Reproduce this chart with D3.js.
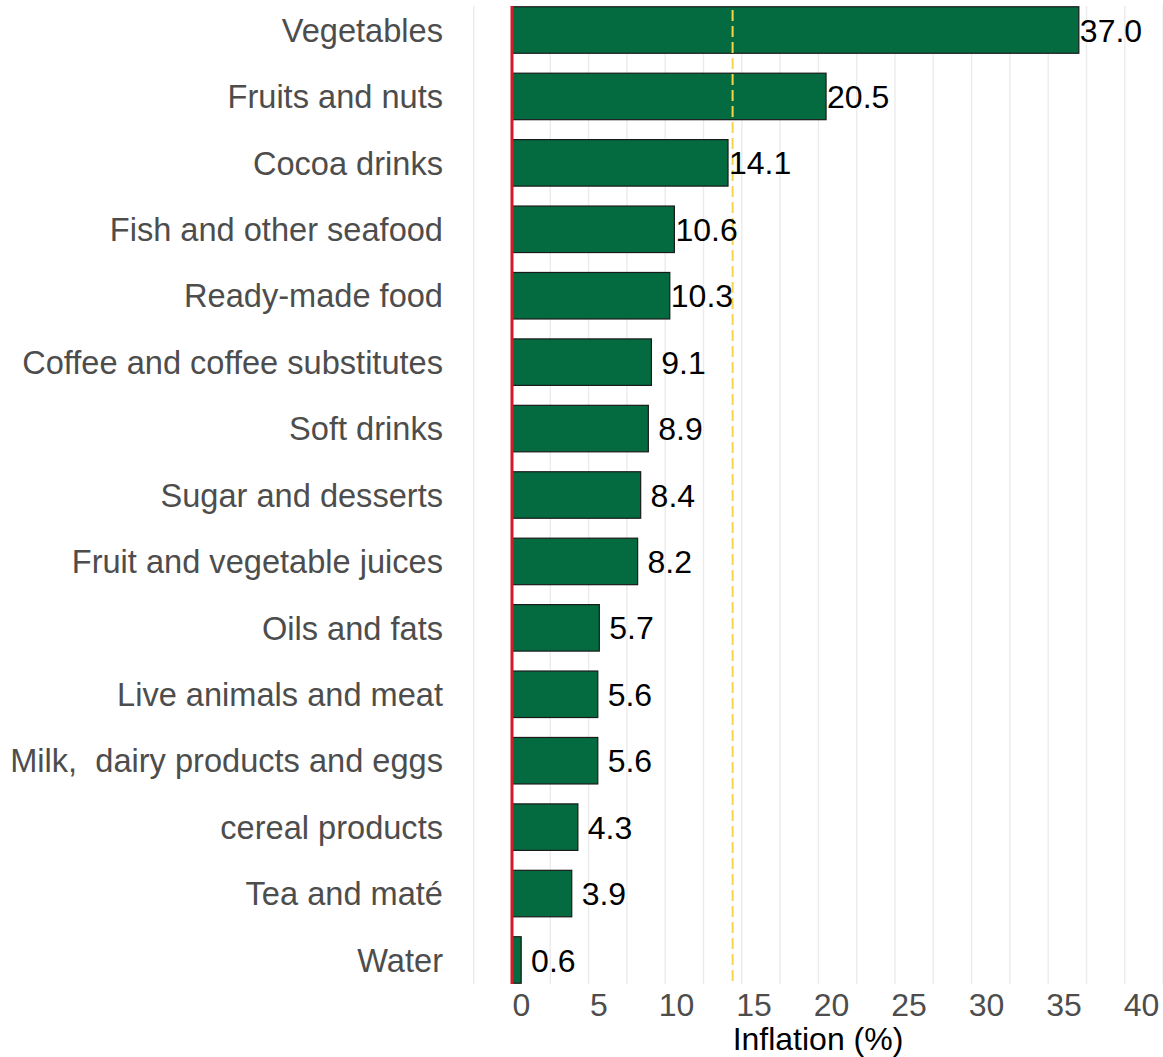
<!DOCTYPE html>
<html>
<head>
<meta charset="utf-8">
<script src="https://cdn.jsdelivr.net/npm/d3@7"></script>
<style>
html, body { margin: 0; padding: 0; background: #fff; }
svg { display: block; font-family: Arial, "Liberation Sans", sans-serif; }
</style>
</head>
<body>
<svg id="chart" width="1163" height="1057"></svg>
<script>
const categories = [
  "Vegetables", "Fruits and nuts", "Cocoa drinks", "Fish and other seafood",
  "Ready-made food", "Coffee and coffee substitutes", "Soft drinks",
  "Sugar and desserts", "Fruit and vegetable juices", "Oils and fats",
  "Live animals and meat", "Milk,  dairy products and eggs", "cereal products",
  "Tea and maté", "Water"
];
const values = [37.0, 20.5, 14.1, 10.6, 10.3, 9.1, 8.9, 8.4, 8.2, 5.7, 5.6, 5.6, 4.3, 3.9, 0.6];
const averageInflation = [14.4];
const tickValues = [0, 5, 10, 15, 20, 25, 30, 35, 40];
const axisTitle = "Inflation (%)";

const svg = d3.select("#chart");
const panelTop = 6, panelBottom = 984;

const x = d3.scaleLinear().domain([0, 40]).range([512, 1124.8]);
const xLabel = d3.scaleLinear().domain([0, 40]).range([521, 1141]);
const y = d3.scaleBand().domain(categories).range([-3.2, 993.2]).paddingInner(0.3).paddingOuter(0.15);

// grid lines (major + minor)
const gridVals = d3.range(-2.5, 42.6, 2.5);
svg.append("g").selectAll("line").data(gridVals).join("line")
  .attr("x1", d => x(d)).attr("x2", d => x(d))
  .attr("y1", panelTop).attr("y2", panelBottom)
  .attr("stroke", "#ebebeb").attr("stroke-width", 1.4);

// bars
svg.append("g").selectAll("rect").data(values).join("rect")
  .attr("x", x(0))
  .attr("y", (d, i) => y(categories[i]))
  .attr("width", d => x(d) - x(0))
  .attr("height", y.bandwidth())
  .attr("fill", "#036B3F")
  .attr("stroke", "#1a1a1a").attr("stroke-width", 1.2);

// average line
svg.append("g").selectAll("line").data(averageInflation).join("line")
  .attr("x1", d => x(d)).attr("x2", d => x(d))
  .attr("y1", panelTop + 4).attr("y2", panelBottom)
  .attr("stroke", "#F7D54A").attr("stroke-width", 2)
  .attr("stroke-dasharray", "11,5");

// zero line
svg.append("line")
  .attr("x1", x(0)).attr("x2", x(0))
  .attr("y1", panelTop).attr("y2", panelBottom)
  .attr("stroke", "#D71A2A").attr("stroke-width", 3);

// value labels
const fmt = d3.format("4.1f");
svg.append("g").selectAll("text").data(values).join("text")
  .attr("x", d => x(d) + 1)
  .attr("y", (d, i) => y(categories[i]) + y.bandwidth() / 2)
  .attr("dy", "0.36em")
  .attr("font-size", 32)
  .attr("fill", "#000")
  .style("white-space", "pre")
  .text(d => fmt(d));

// category labels
svg.append("g").selectAll("text").data(categories).join("text")
  .attr("x", 443)
  .attr("y", d => y(d) + y.bandwidth() / 2)
  .attr("dy", "0.36em")
  .attr("text-anchor", "end")
  .attr("font-size", 32.6)
  .attr("fill", "#4d4d4d")
  .style("white-space", "pre")
  .text(d => d);

// x axis labels
const axis = d3.axisBottom(xLabel).tickValues(tickValues).tickSize(0).tickPadding(0);
const gx = svg.append("g").attr("transform", `translate(0, ${1004})`).call(axis);
gx.select(".domain").remove();
gx.selectAll("text")
  .attr("font-size", 32)
  .attr("font-family", "Arial, 'Liberation Sans', sans-serif")
  .attr("fill", "#4d4d4d")
  .attr("dy", "0.36em")
  .attr("y", 0);

// axis title
svg.append("text")
  .attr("x", 818).attr("y", 1050)
  .attr("text-anchor", "middle")
  .attr("font-size", 32)
  .attr("fill", "#000")
  .text(axisTitle);
</script>
</body>
</html>
